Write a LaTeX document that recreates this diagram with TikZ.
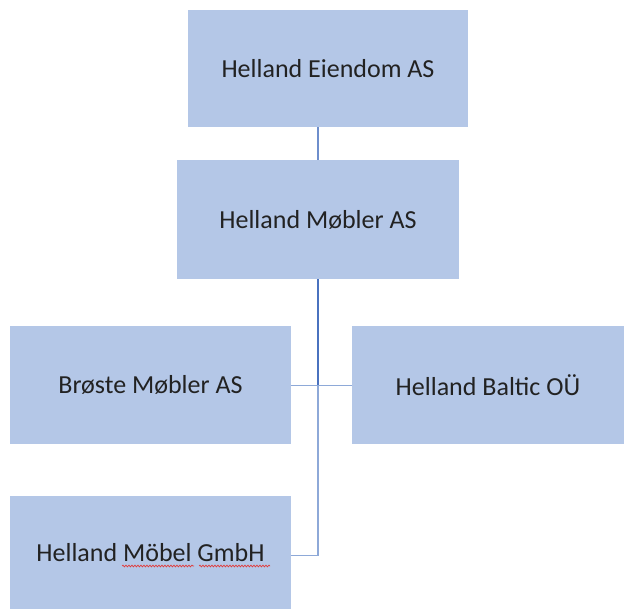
\documentclass[tikz,border=0pt]{standalone}
\usepackage{fontspec}
\setmainfont{Carlito}
\usetikzlibrary{decorations.pathmorphing}
\definecolor{boxfill}{HTML}{B4C7E7}
\definecolor{linedark}{HTML}{4A72BF}
\definecolor{linelight}{HTML}{8EA9D8}
\definecolor{txt}{HTML}{222222}
\definecolor{squig}{HTML}{E03C3C}
\begin{document}
\begin{tikzpicture}[x=1pt,y=1pt,
  orgbox/.style={fill=boxfill,draw=none,inner sep=0pt,font=\fontsize{26}{30}\selectfont,text=txt},
  conn/.style={draw=linelight,line width=1.8pt},
  conndark/.style={draw=linedark,line width=1.8pt},
  squiggle/.style={draw=squig,line width=0.7pt,decorate,decoration={snake,amplitude=0.9pt,segment length=3pt}}]
\useasboundingbox (0,0) rectangle (624,-609);
\node[orgbox,minimum width=280,minimum height=117] (e) at (328,-68.5) {Helland Eiendom AS};
\node[orgbox,minimum width=282,minimum height=119] (m) at (318,-219.5) {Helland Møbler AS};
\node[orgbox,minimum width=281,minimum height=118] (b) at (150.5,-385) {Brøste Møbler AS};
\node[orgbox,minimum width=272,minimum height=118] (bal) at (488,-385) {Helland Baltic OÜ};
\node[orgbox,minimum width=281,minimum height=113] (g) at (150.5,-552.5) {Helland Möbel GmbH};
\coordinate (j) at (318,-385.5);
\coordinate (gc) at (318,-555.5);
\draw[conndark,draw=linedark!80] (e.south -| j) -- (m.north -| j);
\draw[conndark] (m.south -| j) -- (j);
\draw[conn] (b.east |- j) -- (bal.west |- j);
\draw[conn] (j) -- (gc) -- (gc -| g.east);
\draw[squiggle] (122,-566) -- (194,-566);
\draw[squiggle] (199,-566) -- (270,-566);
\end{tikzpicture}
\end{document}
